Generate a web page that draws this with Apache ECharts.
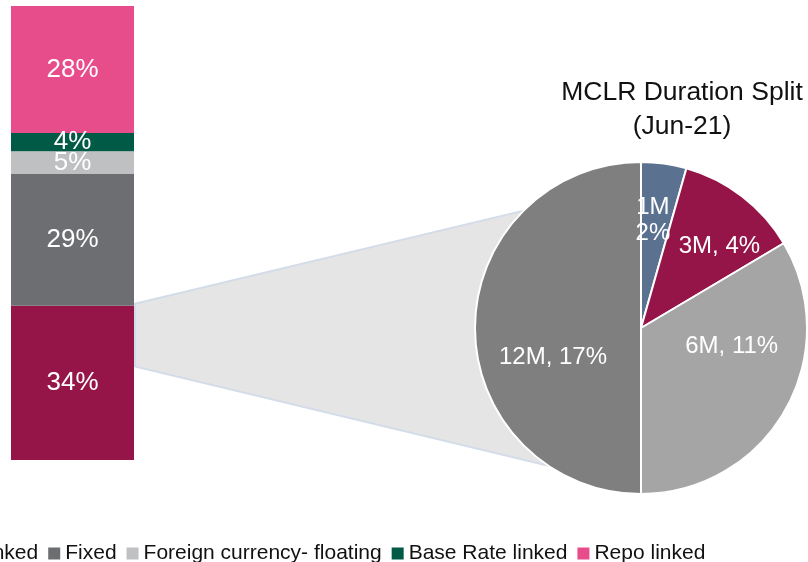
<!DOCTYPE html>
<html>
<head>
<meta charset="utf-8">
<script src="https://cdn.jsdelivr.net/npm/echarts@6/dist/echarts.min.js"></script>
<style>
html,body{margin:0;padding:0;background:#fff}
#main{width:808px;height:562px}
</style>
</head>
<body>
<div id="main"></div>
<script>
// stacked bar: loan book split
var barNames = ['MCLR linked', 'Fixed', 'Foreign currency- floating', 'Base Rate linked', 'Repo linked'];
var barValues = [34, 29, 5, 4, 28];
var barColors = ['#961548', '#6d6e71', '#bfc0c2', '#005a46', '#e74c8b'];

// pie: MCLR duration split
var pieNames = ['1M', '3M', '6M', '12M'];
var pieValues = [1.5, 4.1, 11.4, 17];
var pieColors = ['#5b7190', '#961548', '#a5a5a5', '#7f7f7f'];
// label nudges (Excel "best fit" placement)
var pieLabelDx = [0, 26, 16, -2];
var pieLabelDy = [-22, -13, -24, 29];

// connector: bar-side anchor values, pie-side angles
var linkBarTop = 34.4, linkBarBottom = 20.6;
var linkPieTopDeg = 135, linkPieBottomDeg = 236;

var fontFam = 'Arial, "Liberation Sans", sans-serif';
var pieCx = 641, pieCy = 328, pieR = 166;

var myChart = echarts.init(document.getElementById('main'));

var series = [];
// grey connector drawn first, behind everything
series.push({
    type: 'custom',
    z: 0,
    clip: false,
    silent: true,
    data: [[0, linkBarTop, linkBarBottom]],
    renderItem: function (params, api) {
        var half = api.size([1, 0])[0] / 2;
        var pTop = api.coord([api.value(0), api.value(1)]);
        var pBot = api.coord([api.value(0), api.value(2)]);
        var xL = pTop[0] + half + 1;
        function onCircle(deg) {
            var a = deg * Math.PI / 180;
            return [pieCx + pieR * Math.cos(a), pieCy - pieR * Math.sin(a)];
        }
        return {
            type: 'polygon',
            shape: { points: [[xL, pTop[1]], onCircle(linkPieTopDeg), onCircle(linkPieBottomDeg), [xL, pBot[1]]] },
            style: { fill: '#e5e5e5', stroke: '#d3dce8', lineWidth: 2 }
        };
    }
});
for (var i = 0; i < barNames.length; i++) {
    series.push({
        name: barNames[i],
        type: 'bar',
        stack: 'all',
        barWidth: '100%',
        itemStyle: { color: barColors[i] },
        label: {
            show: true,
            position: 'inside',
            color: '#fff',
            fontSize: 26,
            fontFamily: fontFam,
            formatter: '{c}%'
        },
        data: [barValues[i]]
    });
}
var pieData = [];
for (var j = 0; j < pieNames.length; j++) {
    pieData.push({ name: pieNames[j], value: pieValues[j], itemStyle: { color: pieColors[j] } });
}
series.push({
    type: 'pie',
    center: [pieCx, pieCy],
    radius: pieR,
    startAngle: 90,
    clockwise: true,
    z: 5,
    itemStyle: { borderColor: '#fff', borderWidth: 2 },
    label: {
        show: true,
        position: 'inside',
        color: '#fff',
        fontSize: 24,
        lineHeight: 26,
        fontFamily: fontFam,
        formatter: function (p) {
            var sep = p.dataIndex == 0 ? '\n' : ', ';
            return p.name + sep + Math.round(p.value) + '%';
        }
    },
    labelLayout: function (p) {
        return { dx: pieLabelDx[p.dataIndex], dy: pieLabelDy[p.dataIndex] };
    },
    emphasis: { disabled: true },
    data: pieData
});

var Option = {
    animation: false,
    title: {
        text: 'MCLR Duration Split\n(Jun-21)',
        left: 682,
        top: 76,
        textAlign: 'center',
        padding: 0,
        textStyle: { fontSize: 26.5, fontWeight: 'normal', color: '#111', lineHeight: 34, fontFamily: fontFam }
    },
    legend: {
        data: barNames,
        left: -104,
        top: 538,
        icon: 'rect',
        itemWidth: 12,
        itemHeight: 12,
        itemGap: 10,
        textStyle: { fontSize: 21, color: '#111', fontFamily: fontFam }
    },
    grid: { left: 11, width: 123, top: 6, bottom: 102 },
    xAxis: { type: 'category', data: [''], show: false },
    yAxis: { type: 'value', min: 0, max: 100, show: false },
    series: series
};
myChart.setOption(Option);
</script>
</body>
</html>
